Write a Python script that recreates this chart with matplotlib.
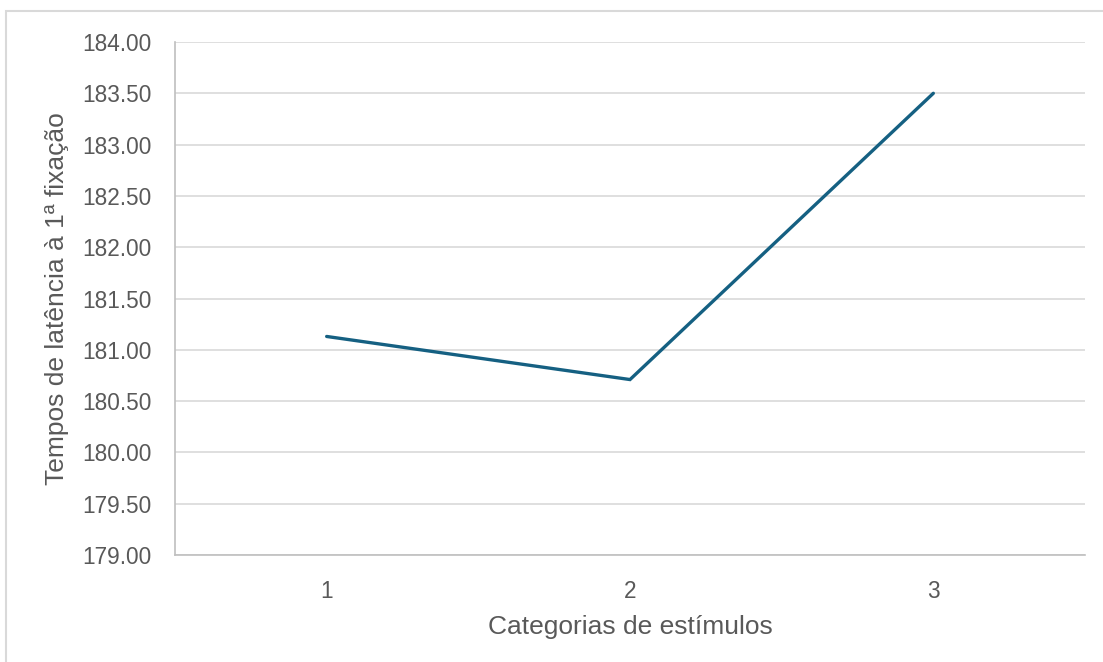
import matplotlib.pyplot as plt
from matplotlib.patches import Rectangle

categories = ["1", "2", "3"]
latency = [181.13, 180.71, 183.50]
y_ticks = [179.0, 179.5, 180.0, 180.5, 181.0, 181.5, 182.0, 182.5, 183.0, 183.5, 184.0]

plt.rcParams['font.family'] = ['Liberation Sans', 'DejaVu Sans']
text_color = "#595959"
grid_color = "#d9d9d9"

fig = plt.figure(figsize=(11.03, 6.62), dpi=100)
# outer chart border (only top and left visible in the reference)
fig.patches.append(Rectangle((6 / 1103, -0.5), 2.0, 1 - 11 / 662 + 0.5,
                             transform=fig.transFigure, fill=False,
                             edgecolor=grid_color, linewidth=1.5))

ax = fig.add_axes([175 / 1103, 1 - 555 / 662, 910 / 1103, 513 / 662])
x = list(range(1, len(categories) + 1))
ax.plot(x, latency, color="#156082", linewidth=2.4, solid_capstyle="round",
        solid_joinstyle="miter", zorder=3)

ax.set_xlim(0.5, 3.5)
ax.set_ylim(179.0, 184.0)
ax.set_xticks(x)
ax.set_xticklabels(categories)
ax.set_yticks(y_ticks)
ax.set_yticklabels([f"{v:.2f}" for v in y_ticks])
ax.grid(axis="y", color=grid_color, linewidth=1.2)
ax.set_axisbelow(True)

for side in ["top", "right"]:
    ax.spines[side].set_visible(False)
for side in ["left", "bottom"]:
    ax.spines[side].set_color("#bfbfbf")
    ax.spines[side].set_linewidth(1.2)

ax.tick_params(axis="both", length=0, labelsize=16.3, colors=text_color)
ax.tick_params(axis="y", pad=17)
ax.tick_params(axis="x", pad=18)

ax.set_xlabel("Categorias de estímulos", fontsize=19, color=text_color)
ax.set_ylabel("Tempos de latência à 1ª fixação", fontsize=19, color=text_color)
ax.xaxis.label.set_va("center")
ax.yaxis.label.set_va("center")
ax.xaxis.set_label_coords(0.5, (555 - 627) / 513)
ax.yaxis.set_label_coords((57 - 175) / 910, 0.5)

fig.savefig("out.png", dpi=100)
